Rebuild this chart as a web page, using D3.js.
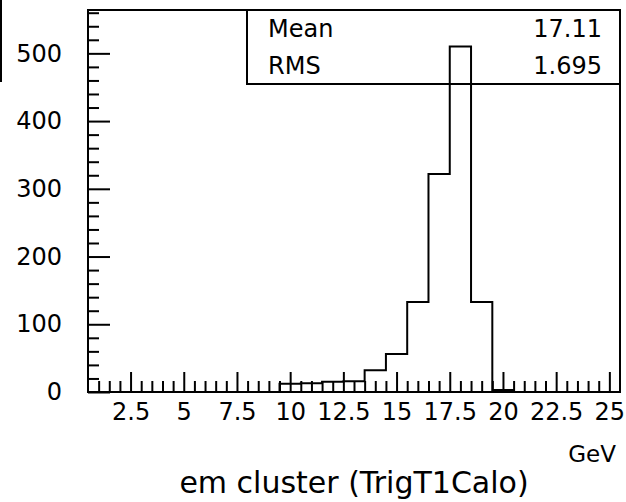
<!DOCTYPE html>
<html>
<head>
<meta charset="utf-8">
<script src="https://cdn.jsdelivr.net/npm/d3@7"></script>
<style>
    body { margin: 0; background: #fff; }
    svg { display: block; font-family: "DejaVu Sans", sans-serif; }
    .tick text { font-size: 24px; font-family: "DejaVu Sans", sans-serif; fill: #000; }
    .tick line { stroke: #000; stroke-width: 2; }
</style>
</head>
<body>
<div id="chart"></div>
<script>
// Histogram data: bin centres (GeV) and entries
const binCenters = [1, 2, 3, 4, 5, 6, 7, 8, 9, 10, 11, 12, 13, 14, 15, 16, 17, 18, 19, 20, 21, 22, 23, 24, 25];
const binCounts = [0, 0, 0, 0, 0, 0, 0, 0, 0, 12, 13, 15, 16, 32, 56, 133, 322, 510, 133, 3, 0, 0, 0, 0, 0];
const binWidth = 1;

const xTicks = [2.5, 5, 7.5, 10, 12.5, 15, 17.5, 20, 22.5, 25];
const yTicks = [0, 100, 200, 300, 400, 500];

const statsLabels = ["Mean", "RMS"];
const statsValues = ["17.11", "1.695"];

const xTitle = "GeV";
const histTitle = "em cluster (TrigT1Calo)";

const outerWidth = 626;
const outerHeight = 502;
const frame = { left: 88, right: 620, top: 10, bottom: 392 };

const svg = d3.select("#chart")
    .append("svg")
    .attr("width", outerWidth)
    .attr("height", outerHeight)
    .attr("viewBox", [0, 0, outerWidth, outerHeight]);

// Scales
const xScale = d3.scaleLinear()
    .domain([binCenters[0] - binWidth / 2, binCenters[binCenters.length - 1] + binWidth / 2])
    .range([frame.left, frame.right]);

const yScale = d3.scaleLinear()
    .domain([0, 564])
    .range([frame.bottom, frame.top]);

// Minor tick values
const xMinor = d3.range(1, 25.01, 0.5).filter(v => !xTicks.includes(v));
const yMinor = d3.range(0, 561, 20).filter(v => !yTicks.includes(v));

// Add x axis (major)
svg.append("g")
    .attr("class", "x-axis")
    .attr("transform", "translate(0," + frame.bottom + ")")
    .call(d3.axisBottom(xScale).tickValues(xTicks).tickSize(-20).tickPadding(11)
        .tickFormat(d => d3.format("")(d)))
    .call(g => g.select(".domain").remove());

// Add x axis (minor)
svg.append("g")
    .attr("transform", "translate(0," + frame.bottom + ")")
    .call(d3.axisBottom(xScale).tickValues(xMinor).tickSize(-11).tickFormat(""))
    .call(g => g.select(".domain").remove());

// Add y axis (major)
svg.append("g")
    .attr("class", "y-axis")
    .attr("transform", "translate(" + frame.left + ",0)")
    .call(d3.axisLeft(yScale).tickValues(yTicks).tickSize(-22).tickPadding(26))
    .call(g => g.select(".domain").remove());

// Add y axis (minor)
svg.append("g")
    .attr("transform", "translate(" + frame.left + ",0)")
    .call(d3.axisLeft(yScale).tickValues(yMinor).tickSize(-11).tickFormat(""))
    .call(g => g.select(".domain").remove());

// Histogram outline
const stepPoints = [[xScale.domain()[0], 0]];
binCenters.forEach((c, i) => {
    stepPoints.push([c - binWidth / 2, binCounts[i]]);
    stepPoints.push([c + binWidth / 2, binCounts[i]]);
});
stepPoints.push([xScale.domain()[1], 0]);

svg.append("path")
    .datum(stepPoints)
    .attr("fill", "none")
    .attr("stroke", "#000")
    .attr("stroke-width", 2)
    .attr("d", d3.line().x(d => xScale(d[0])).y(d => yScale(d[1])));

// Frame
svg.append("rect")
    .attr("x", frame.left)
    .attr("y", frame.top)
    .attr("width", frame.right - frame.left)
    .attr("height", frame.bottom - frame.top)
    .attr("fill", "none")
    .attr("stroke", "#000")
    .attr("stroke-width", 2);

// Stats box
const statsBox = { left: 247, bottom: 84 };
svg.append("rect")
    .attr("x", statsBox.left)
    .attr("y", frame.top)
    .attr("width", frame.right - statsBox.left)
    .attr("height", statsBox.bottom - frame.top)
    .attr("fill", "none")
    .attr("stroke", "#000")
    .attr("stroke-width", 2);

statsLabels.forEach((label, i) => {
    svg.append("text")
        .attr("x", 268)
        .attr("y", 37 + i * 37)
        .attr("font-size", 24)
        .text(label);
    svg.append("text")
        .attr("x", 602)
        .attr("y", 37 + i * 37)
        .attr("font-size", 24)
        .attr("text-anchor", "end")
        .text(statsValues[i]);
});

// Axis title
svg.append("text")
    .attr("x", 616)
    .attr("y", 462)
    .attr("font-size", 23)
    .attr("text-anchor", "end")
    .text(xTitle);

// Histogram title
svg.append("text")
    .attr("x", (frame.left + frame.right) / 2)
    .attr("y", 493)
    .attr("font-size", 30)
    .attr("text-anchor", "middle")
    .text(histTitle);

// Small edge mark at top left
svg.append("rect")
    .attr("x", 0)
    .attr("y", 0)
    .attr("width", 2)
    .attr("height", 82)
    .attr("fill", "#000");
</script>
</body>
</html>
